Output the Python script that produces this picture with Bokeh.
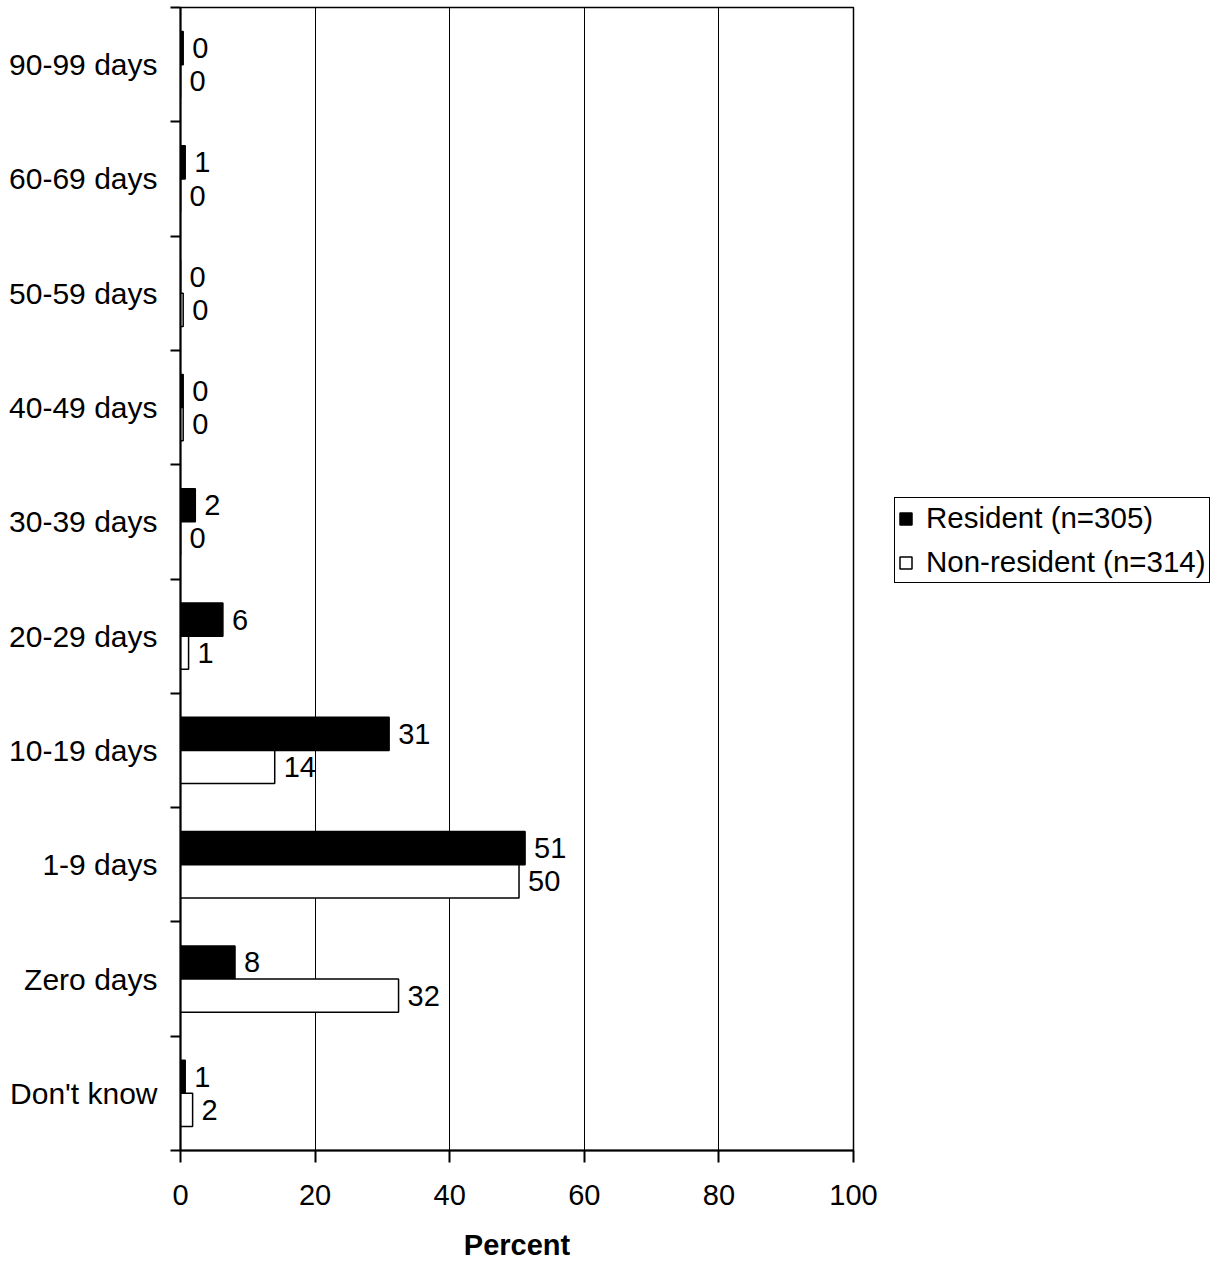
from bokeh.plotting import figure
from bokeh.models import FixedTicker, Legend, LegendItem, Range1d, ColumnDataSource
from bokeh.core.properties import value
from bokeh.embed import file_html
from bokeh.resources import INLINE

# Categories from bottom to top
categories = ["Don't know", "Zero days", "1-9 days", "10-19 days", "20-29 days",
              "30-39 days", "40-49 days", "50-59 days", "60-69 days", "90-99 days"]
resident = [0.7, 8.1, 51.2, 31.0, 6.3, 2.2, 0.4, 0.0, 0.7, 0.4]
non_resident = [1.8, 32.4, 50.3, 14.0, 1.2, 0.0, 0.4, 0.4, 0.0, 0.0]
resident_labels = ["1", "8", "51", "31", "6", "2", "0", "0", "1", "0"]
non_resident_labels = ["2", "32", "50", "14", "1", "0", "0", "0", "0", "0"]
x_ticks = [0, 20, 40, 60, 80, 100]
series_names = ["Resident (n=305)", "Non-resident (n=314)"]

FONT = "Liberation Sans"
FS = "29px"

n = len(categories)
centers = [i + 0.5 for i in range(n)]
bounds = [i for i in range(n + 1)]
bar_h = 0.29

p = figure(frame_width=673, frame_height=1143, output_backend="svg",
           toolbar_location=None, x_range=Range1d(0, 100), y_range=Range1d(0, n),
           min_border_top=7, min_border_left=180, min_border_right=4,
           min_border_bottom=10)

src_r = ColumnDataSource(dict(y=[c + bar_h / 2 for c in centers], v=resident, t=resident_labels))
src_n = ColumnDataSource(dict(y=[c - bar_h / 2 for c in centers], v=non_resident, t=non_resident_labels))

r1 = p.hbar(y="y", left=0, right="v", height=bar_h, source=src_r,
            fill_color="black", line_color="black", line_width=1.5)
r2 = p.hbar(y="y", left=0, right="v", height=bar_h, source=src_n,
            fill_color="white", line_color="black", line_width=1.5)

for src in (src_r, src_n):
    p.text(x="v", y="y", text="t", source=src, x_offset=9,
           text_baseline="middle", text_align="left",
           text_font=value(FONT), text_font_size=FS, text_color="black")

# Axes
p.xaxis.ticker = FixedTicker(ticks=x_ticks)
p.xaxis.axis_label = "Percent"
p.xaxis.axis_label_text_font = FONT
p.xaxis.axis_label_text_font_size = FS
p.xaxis.axis_label_text_font_style = "bold"
p.xaxis.axis_label_standoff = 21
p.xaxis.major_label_text_font = FONT
p.xaxis.major_label_text_font_size = FS
p.xaxis.major_label_standoff = 22
p.xaxis.major_tick_out = 12
p.xaxis.major_tick_in = 0
p.xaxis.minor_tick_out = 0
p.xaxis.minor_tick_in = 0
p.xaxis.axis_line_width = 2
p.xaxis.major_tick_line_width = 2

p.yaxis.ticker = FixedTicker(ticks=centers, minor_ticks=bounds)
p.yaxis.major_label_overrides = {c: lab for c, lab in zip(centers, categories)}
p.yaxis.major_label_text_font = FONT
p.yaxis.major_label_text_font_size = "30px"
p.yaxis.major_tick_out = 0
p.yaxis.major_tick_in = 0
p.yaxis.minor_tick_out = 10
p.yaxis.minor_tick_in = 0
p.yaxis.minor_tick_line_width = 2
p.yaxis.minor_tick_line_color = "black"
p.yaxis.major_label_standoff = 13
p.yaxis.axis_line_width = 2

for ax in (p.xaxis, p.yaxis):
    ax.axis_line_color = "black"
    ax.major_tick_line_color = "black"
    ax.major_label_text_color = "black"
    ax.axis_label_text_color = "black"

p.xgrid.ticker = FixedTicker(ticks=x_ticks)
p.xgrid.grid_line_color = "black"
p.xgrid.grid_line_width = 1
p.ygrid.grid_line_color = None

p.outline_line_color = "black"
p.outline_line_width = 1.5
p.background_fill_color = "white"
p.border_fill_color = "white"

legend = Legend(items=[LegendItem(label=series_names[0], renderers=[r1]),
                       LegendItem(label=series_names[1], renderers=[r2])],
                location=(41, 567), label_text_font=FONT, label_text_font_size="29.5px",
                label_text_color="black",
                glyph_width=15, glyph_height=15, label_standoff=13, spacing=10,
                padding=3, margin=0, border_line_color="black", border_line_width=1.5,
                border_line_alpha=1.0,
                background_fill_color="white", background_fill_alpha=1.0)
p.add_layout(legend, "right")

open("out.html", "w").write(file_html(p, INLINE))
